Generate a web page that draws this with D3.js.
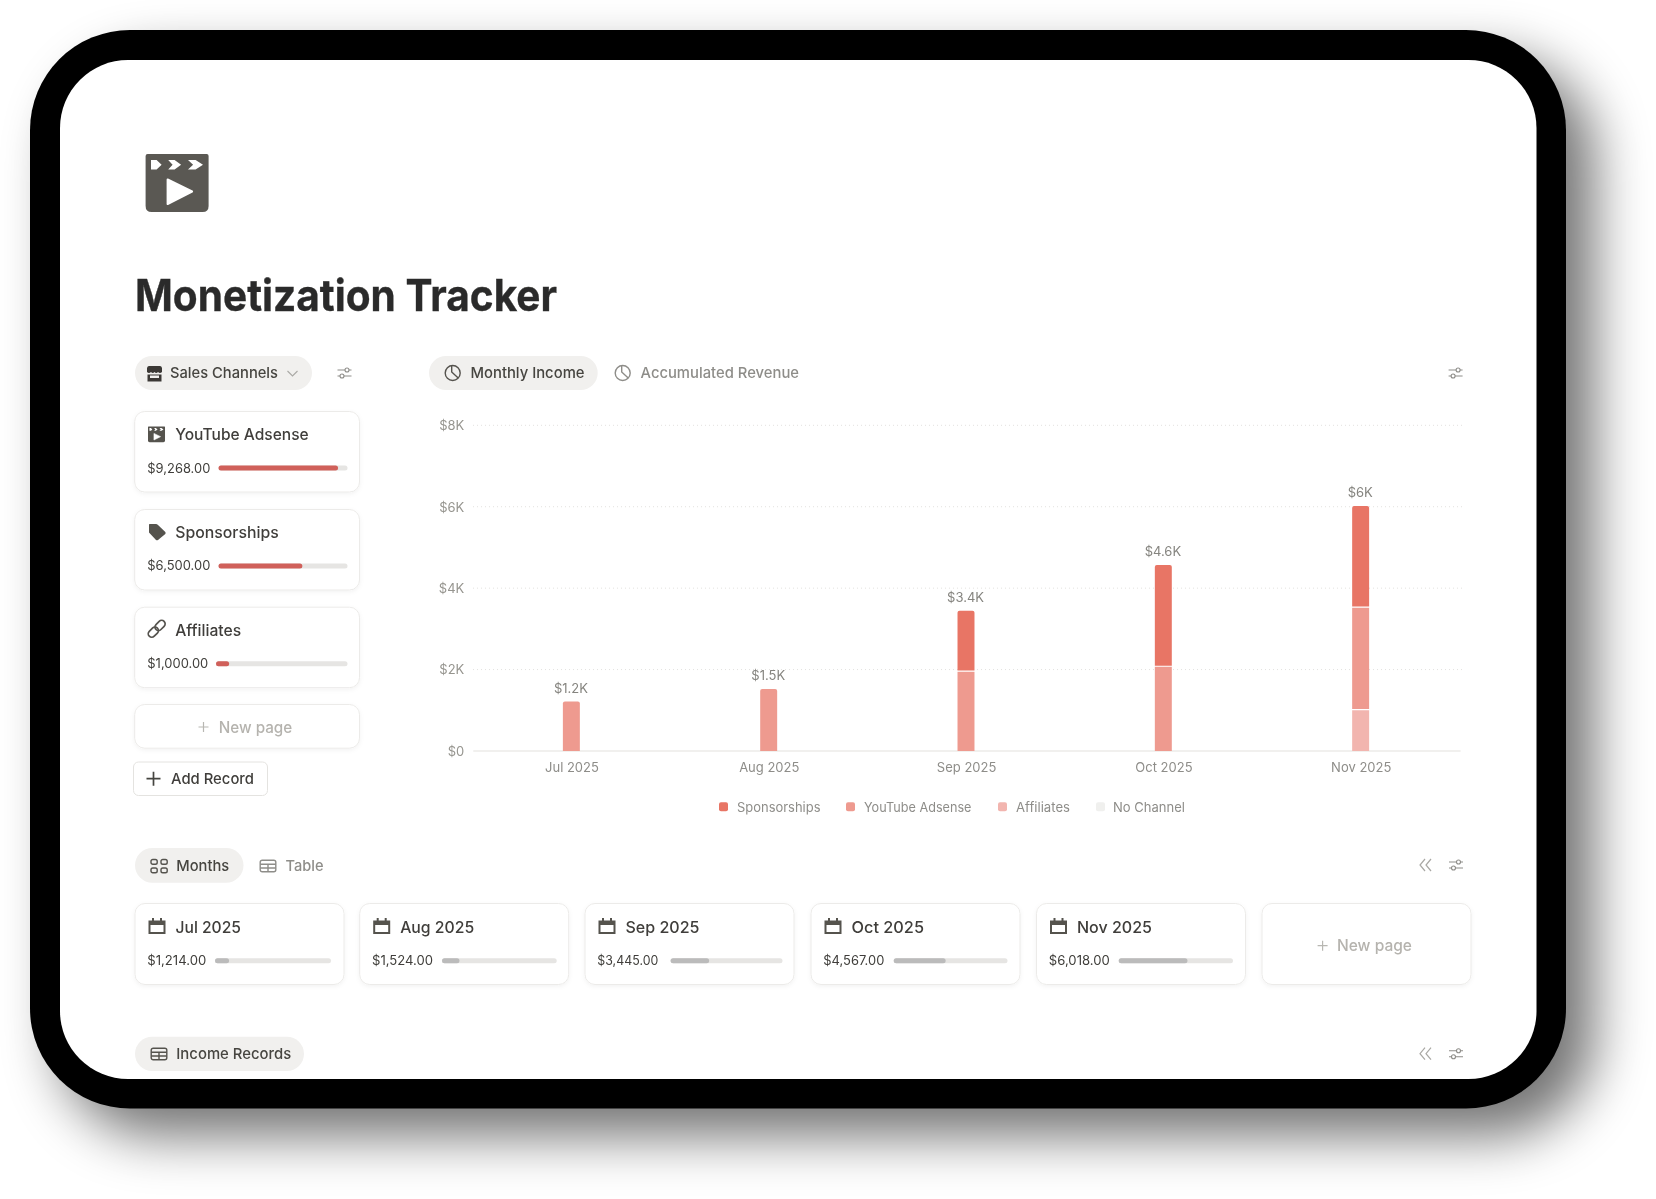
<!DOCTYPE html>
<html><head><meta charset="utf-8">
<script src="https://cdn.jsdelivr.net/npm/d3@7"></script>
<style>html,body{margin:0;padding:0;background:#fff;overflow:hidden}svg{display:block}text{font-family:Inter,"Noto Sans",sans-serif}</style>
</head><body><svg id="c" width="1656" height="1199" viewBox="0 0 1656 1199"></svg>
<script>
// ---- data ----
const months = ["Jul 2025","Aug 2025","Sep 2025","Oct 2025","Nov 2025"];
const sponsorships = [0,0,1500,2500,2500];
const youtubeAdsense = [1214,1524,1945,2067,2518];
const affiliates = [0,0,0,0,1000];
const noChannel = [0,0,0,0,0];
const monthTotals = [1214,1524,3445,4567,6018];
const totalLabels = ["$1.2K","$1.5K","$3.4K","$4.6K","$6K"];
const monthValueLabels = ["$1,214.00","$1,524.00","$3,445.00","$4,567.00","$6,018.00"];
const yTicks = [0,2000,4000,6000,8000];
const yTickLabels = ["$0","$2K","$4K","$6K","$8K"];
const seriesNames = ["Sponsorships","YouTube Adsense","Affiliates","No Channel"];
const seriesColors = ["#e87465","#ee9a8f","#f2b5af","#f0f0ee"];
const channelNames = ["YouTube Adsense","Sponsorships","Affiliates"];
const channelValues = [9268,6500,1000];
const channelLabels = ["$9,268.00","$6,500.00","$1,000.00"];
const progressMax = 10000;

const svg = d3.select("#c");
const defs = svg.append("defs");
defs.append("filter").attr("id","sh").attr("filterUnits","userSpaceOnUse").attr("x",0).attr("y",0).attr("width",1656).attr("height",1199)
  .append("feGaussianBlur").attr("stdDeviation",27);
defs.append("filter").attr("id","soft").attr("filterUnits","userSpaceOnUse").attr("x",0).attr("y",0).attr("width",1656).attr("height",1199)
  .append("feGaussianBlur").attr("stdDeviation",0.55);
const cs = defs.append("filter").attr("id","cardsh").attr("x","-5%").attr("y","-10%").attr("width","110%").attr("height","125%");
cs.append("feDropShadow").attr("dx",0).attr("dy",1.5).attr("stdDeviation",2).attr("flood-color","#000").attr("flood-opacity",0.05);

// device frame
svg.append("rect").attr("x",58).attr("y",58).attr("width",1536).attr("height",1078).attr("rx",100)
  .attr("fill","#000").attr("opacity",0.55).attr("filter","url(#sh)");
svg.append("rect").attr("x",30).attr("y",30).attr("width",1536).attr("height",1078.5).attr("rx",100).attr("fill","#000");
svg.append("rect").attr("x",60).attr("y",60).attr("width",1476.5).attr("height",1019).attr("rx",68).attr("fill","#fff");

const root = svg.append("g").attr("filter","url(#soft)");

function T(x,y,s,size,weight,color,w,anchor){
  const n = root.append("text").attr("x",x).attr("y",y).attr("font-size",size).attr("font-weight",weight).attr("fill",color).text(s);
  if(w){n.attr("textLength",w).attr("lengthAdjust","spacingAndGlyphs");}
  if(anchor){n.attr("text-anchor",anchor);}
  return n;
}
function pill(x,y,w,h){root.append("rect").attr("x",x).attr("y",y).attr("width",w).attr("height",h).attr("rx",h/2).attr("fill","#f1f0ee");}
function card(x,y,w,h,r){root.append("rect").attr("x",x+.5).attr("y",y+.5).attr("width",w-1).attr("height",h-1).attr("rx",r||9).attr("fill","#fff").attr("stroke","#ecebe9").attr("filter","url(#cardsh)");}
function sliders(cx,cy,c){
  const g=root.append("g").attr("transform",`translate(${cx},${cy})`).attr("stroke",c||"#8e8d89").attr("fill","none").attr("stroke-width",1.1);
  g.append("path").attr("d","M-7 -3H7M-7 3H7");
  g.append("circle").attr("cx",2.5).attr("cy",-3).attr("r",2).attr("fill","#fff");
  g.append("circle").attr("cx",-2.5).attr("cy",3).attr("r",2).attr("fill","#fff");
}
function chevL(cx,cy){root.append("path").attr("d",`M${cx-1} ${cy-6}L${cx-6} ${cy}L${cx-1} ${cy+6}M${cx+5} ${cy-6}L${cx} ${cy}L${cx+5} ${cy+6}`).attr("fill","none").attr("stroke","#a9a8a4").attr("stroke-width",1.2);}
function plus(cx,cy,r,c,sw){root.append("path").attr("d",`M${cx-r} ${cy}H${cx+r}M${cx} ${cy-r}V${cy+r}`).attr("stroke",c).attr("stroke-width",sw||1.2);}
function pie(cx,cy,c){
  const g=root.append("g").attr("transform",`translate(${cx},${cy})`).attr("fill","none").attr("stroke",c).attr("stroke-width",1.4);
  g.append("circle").attr("r",7.5);
  g.append("path").attr("d","M-1 -7.5V-1L5.5 5");
}
function calendar(x,y){
  const g=root.append("g").attr("transform",`translate(${x},${y})`);
  g.append("path").attr("d","M0 2.5H17V16H0ZM2 7V14H15V7Z").attr("fill","#55534e").attr("fill-rule","evenodd");
  g.append("path").attr("d","M3.5 0H5.5V3H3.5ZM11.5 0H13.5V3H11.5Z").attr("fill","#55534e");
}
function tableIcon(x,y,c){
  const g=root.append("g").attr("transform",`translate(${x},${y})`).attr("fill","none").attr("stroke",c).attr("stroke-width",1.4);
  g.append("rect").attr("x",.7).attr("y",.7).attr("width",15.6).attr("height",11.6).attr("rx",2);
  g.append("path").attr("d","M.7 4.7H16.3M.7 8.5H16.3M8.5 4.7V12.3");
}
function clap(x,y,s,c,fg){
  const g=root.append("g").attr("transform",`translate(${x},${y}) scale(${s})`);
  g.append("path").attr("d","M2 0H61Q63 0 63 2V52Q63 58 57 58H6Q0 58 0 52V2Q0 0 2 0Z").attr("fill",c);
  g.append("path").attr("d","M5.4 6H11L16 10.8L11 15.5H5.4ZM22.6 6H29L35.5 10.8L29 15.5H22.6L27 10.8ZM42.4 6H50L57.4 10.8L50 15.5H42.4L47.5 10.8Z").attr("fill",fg);
  g.append("path").attr("d","M22 25.5L46.5 37.5L22 50Z").attr("fill",fg).attr("stroke",fg).attr("stroke-width",2).attr("stroke-linejoin","round");
}

// header
clap(145.6,154,1.0,"#5a5853","#fff");
T(135,310.7,"Monetization Tracker",43.5,700,"#2c2c2b",422).attr("stroke","#2c2c2b").attr("stroke-width",0.35);

// left column
pill(135,356,177,34);
const st=root.append("g").attr("transform","translate(147,366)").attr("fill","#3a3936");
st.append("path").attr("d","M2 0H13Q14.5 0 15 2V6Q13 8 11 6Q9.2 8 7.5 6Q5.8 8 4 6Q2 8 0 6V2Q.5 0 2 0Z");
st.append("path").attr("d","M.5 8.5H14.5V15.5H.5Z");st.append("rect").attr("x",3).attr("y",9.5).attr("width",9).attr("height",2.5).attr("fill","#f1f0ee");
T(170,378,"Sales Channels",15,500,"#464540",108);
root.append("path").attr("d","M287.5 371L292.5 376L297.5 371").attr("fill","none").attr("stroke","#aaa9a5").attr("stroke-width",1.1);
sliders(344.5,373);

const cardYs=[411,509,606.7], barStarts=[218.5,218.5,216], valueDy=[62,61,61];
channelNames.forEach((name,i)=>{
  const y=cardYs[i];
  card(134.2,y,225.8,81.5,10);
  T(175.2,y+29,name,16,500,"#3f3e3a",[133.5,103.5,66][i]);
  T(147.3,y+valueDy[i],channelLabels[i],13,400,"#3f3e3a",[63,63,61][i]);
  const xs=d3.scaleLinear().domain([0,progressMax]).range([barStarts[i],347.5]);
  root.append("rect").attr("x",xs(0)).attr("y",y+54.5).attr("width",xs(progressMax)-xs(0)).attr("height",5).attr("rx",2.5).attr("fill","#e6e5e3");
  root.append("rect").attr("x",xs(0)).attr("y",y+54.5).attr("width",xs(channelValues[i])-xs(0)).attr("height",5).attr("rx",2.5).attr("fill","#d0605a");
});
clap(148,426.5,0.27,"#55534e","#fff");
root.append("path").attr("d","M149.5 524H156Q157 524 158 525L165.3 532Q166 533 165.3 534L158 540Q157 540.6 156 540L149 532.5V525Q149 524 149.5 524Z").attr("fill","#55534e");
const lk=root.append("g").attr("transform","translate(156.7,628.8) rotate(-45)").attr("fill","none").attr("stroke","#55534e").attr("stroke-width",1.7);
lk.append("rect").attr("x",-10.5).attr("y",-3.5).attr("width",11.5).attr("height",7).attr("rx",3.5);
lk.append("rect").attr("x",-1).attr("y",-3.5).attr("width",11.5).attr("height",7).attr("rx",3.5);

card(134.2,704,225.8,44.7,10);
plus(203.5,727,5,"#b8b7b2");
T(218.7,732.7,"New page",16,500,"#b5b3ae",73.6);

root.append("rect").attr("x",133.5).attr("y",762).attr("width",134).attr("height",33.5).attr("rx",5).attr("fill","#fff").attr("stroke","#e4e3e0");
plus(153.5,778.7,7,"#45443f",1.7);
T(171,784,"Add Record",15,500,"#3f3e3a",83);

// tabs above chart
pill(429,356,168.7,34);
pie(452.7,373,"#55534e");
T(470.5,378,"Monthly Income",15,500,"#464540",114);
pie(622.7,373,"#8e8d89");
T(640.5,378,"Accumulated Revenue",15,500,"#8e8d89",158.5);
sliders(1455.6,373);

// ---- chart ----
const x=d3.scaleBand().domain(months).range([472.7,1459.3]).paddingInner(0.914).paddingOuter(0.457);
const y=d3.scaleLinear().domain([0,8000]).range([751,425.3]);
const rows=months.map((m,i)=>({month:m,"Affiliates":affiliates[i],"YouTube Adsense":youtubeAdsense[i],"Sponsorships":sponsorships[i],"No Channel":noChannel[i]}));
const stackKeys=["No Channel","Affiliates","YouTube Adsense","Sponsorships"];
const stacked=d3.stack().keys(stackKeys)(rows);
const color=d3.scaleOrdinal().domain(seriesNames).range(seriesColors);

const yAxis=d3.axisLeft(y).tickValues(yTicks).tickSize(0).tickPadding(0).tickFormat((d,i)=>yTickLabels[i]);
const yg=root.append("g").attr("transform","translate(464.3,0)").call(yAxis);
yg.select(".domain").remove();
yg.selectAll("text").attr("font-size",13).attr("fill","#96958f").style("font-family","Inter").attr("dy",null).attr("dominant-baseline",null).attr("y",4.4);

root.append("g").selectAll("line").data(yTicks.slice(1)).join("line")
  .attr("x1",473).attr("x2",1463).attr("y1",d=>y(d)).attr("y2",d=>y(d))
  .attr("stroke","#e3e2df").attr("stroke-width",1).attr("stroke-dasharray","1 3");

const xAxis=d3.axisBottom(x).tickSize(0).tickPadding(0);
const xg=root.append("g").attr("transform","translate(0.6,751)").call(xAxis);
xg.select(".domain").attr("stroke","#ecebe9").attr("stroke-width",1.5).attr("d","M472.7 0H1460");
xg.selectAll("text").attr("font-size",13).attr("fill","#8e8d89").style("font-family","Inter").attr("y",21.2).attr("dy",null);

stacked.forEach(s=>{
  root.append("g").selectAll("path").data(s.filter(d=>d[1]>d[0])).join("path")
    .attr("fill",color(s.key))
    .attr("d",d=>{
      const X=x(d.data.month),W=x.bandwidth(),Y0=y(d[0]),Y1=y(d[1]);
      const top=months.indexOf(d.data.month), isTop=Math.abs(d[1]-monthTotals[top])<1;
      const gap=d[0]>0?1.2:0, r=isTop?2:0;
      return `M${X} ${Y0-gap}V${Y1+r}Q${X} ${Y1} ${X+r} ${Y1}H${X+W-r}Q${X+W} ${Y1} ${X+W} ${Y1+r}V${Y0-gap}Z`;
    });
});
root.append("g").selectAll("text").data(months).join("text")
  .attr("x",m=>x(m)+x.bandwidth()/2-0.4).attr("y",(m,i)=>y(monthTotals[i])-8.8)
  .attr("text-anchor","middle").attr("font-size",13).attr("fill","#85847f").text((m,i)=>totalLabels[i]);

// legend
const legendX=[719,846,998,1096], legendW=[83.5,107.5,54,72], legendTX=[737,864,1016,1113];
seriesNames.forEach((n,i)=>{
  root.append("rect").attr("x",legendX[i]).attr("y",802.2).attr("width",9).attr("height",9).attr("rx",2).attr("fill",seriesColors[i]);
  T(legendTX[i],811.8,n,13,400,"#8e8d89",legendW[i]);
});

// months section
pill(135,848,108.5,34.7);
const mi=root.append("g").attr("transform","translate(150.5,859)").attr("fill","none").attr("stroke","#55534e").attr("stroke-width",1.4);
[[0,0],[10,0],[0,8.5],[10,8.5]].forEach(p=>mi.append("rect").attr("x",p[0]+.5).attr("y",p[1]+.5).attr("width",6.2).attr("height",4.8).attr("rx",1.8));
T(176.3,871,"Months",15,500,"#464540",53);
tableIcon(259.5,859.5,"#8e8d89");
T(285.5,871,"Table",15,500,"#8e8d89",38);
chevL(1426,865);
sliders(1456,865);

const cardX=[134.5,359.2,584.5,810.5,1036], barX0=[215,442,670.6,893.7,1118.7], barX1=[331,556.7,782.5,1007.5,1233];
const valW=[59,61,61,61,61];
const titleW=[65.5,74,74,72.5,75];
months.forEach((m,i)=>{
  card(cardX[i],903,210,82,10);
  calendar(cardX[i]+14,918);
  T(cardX[i]+41,932.7,m,16,500,"#3f3e3a",titleW[i]);
  T(cardX[i]+12.8,965,monthValueLabels[i],13,400,"#3f3e3a",valW[i]);
  const xs=d3.scaleLinear().domain([0,progressMax]).range([barX0[i],barX1[i]]);
  root.append("rect").attr("x",xs(0)).attr("y",958.2).attr("width",xs(progressMax)-xs(0)).attr("height",5).attr("rx",2.5).attr("fill","#e6e5e3");
  root.append("rect").attr("x",xs(0)).attr("y",958.2).attr("width",xs(monthTotals[i])-xs(0)).attr("height",5).attr("rx",2.5).attr("fill","#bbbbbb");
});
card(1261.5,903,210,82,10);
plus(1322.6,945.7,5,"#b8b7b2");
T(1337,950.6,"New page",16,500,"#b5b3ae",75);

// income records
pill(135,1036.7,169,34.3);
tableIcon(150.5,1047.5,"#55534e");
T(176.3,1059,"Income Records",15,500,"#464540",115);
chevL(1426,1053.7);
sliders(1456,1053.7);
</script></body></html>
